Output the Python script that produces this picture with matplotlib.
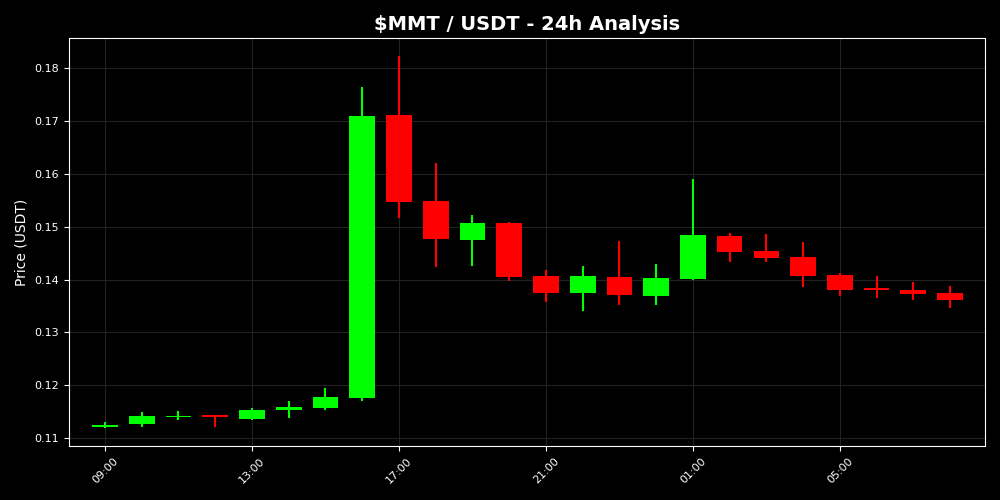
import matplotlib
matplotlib.use('Agg')
import matplotlib.pyplot as plt

# Hourly candles, 09:00 -> 08:00 next day
hours = ['09:00', '10:00', '11:00', '12:00', '13:00', '14:00', '15:00', '16:00',
         '17:00', '18:00', '19:00', '20:00', '21:00', '22:00', '23:00', '00:00',
         '01:00', '02:00', '03:00', '04:00', '05:00', '06:00', '07:00', '08:00']
opens = [0.1121, 0.1127, 0.1140, 0.1144, 0.1137, 0.1154, 0.1157, 0.1176,
         0.1711, 0.1548, 0.1475, 0.1507, 0.1407, 0.1374, 0.1405, 0.1368,
         0.1401, 0.1482, 0.1454, 0.1442, 0.1408, 0.1384, 0.1380, 0.1374]
highs = [0.1130, 0.1149, 0.1152, 0.1144, 0.1157, 0.1170, 0.1195, 0.1764,
         0.1823, 0.1620, 0.1522, 0.1509, 0.1418, 0.1425, 0.1473, 0.1429,
         0.1591, 0.1488, 0.1486, 0.1471, 0.1412, 0.1406, 0.1395, 0.1388]
lows = [0.1120, 0.1121, 0.1135, 0.1121, 0.1135, 0.1138, 0.1154, 0.1171,
        0.1517, 0.1424, 0.1425, 0.1398, 0.1357, 0.1341, 0.1352, 0.1352,
        0.1400, 0.1434, 0.1434, 0.1386, 0.1369, 0.1365, 0.1362, 0.1347]
closes = [0.1125, 0.1142, 0.1142, 0.1139, 0.1153, 0.1159, 0.1178, 0.1709,
          0.1547, 0.1477, 0.1507, 0.1405, 0.1374, 0.1407, 0.1371, 0.1402,
          0.1484, 0.1453, 0.1441, 0.1407, 0.1381, 0.1380, 0.1373, 0.1362]

plt.style.use('dark_background')
fig, ax = plt.subplots(figsize=(10, 5), dpi=100)
fig.subplots_adjust(left=0.069, right=0.985, bottom=0.108, top=0.924)
fig.patch.set_facecolor('black')
ax.set_facecolor('black')

width = 0.7
for i in range(len(hours)):
    o, h, l, c = opens[i], highs[i], lows[i], closes[i]
    color = '#00ff00' if c >= o else '#ff0000'
    ax.vlines(i, l, h, color=color, linewidth=1.5, zorder=2)
    bottom = min(o, c)
    height = max(abs(c - o), 0.00005)
    ax.bar(i, height, width=width, bottom=bottom, color=color, zorder=3)

ax.set_xlim(-0.98, 23.95)
ax.set_ylim(0.1085, 0.1857)

tick_idx = list(range(0, len(hours), 4))
ax.set_xticks(tick_idx)
ax.set_xticklabels([hours[i] for i in tick_idx], rotation=45, fontsize=8)
ax.tick_params(axis='y', labelsize=8)

ax.grid(True, color='#222222', linewidth=0.8)
ax.set_axisbelow(True)
for s in ax.spines.values():
    s.set_color('white')

ax.set_title('$MMT / USDT - 24h Analysis', fontsize=14, fontweight='bold', color='white')
ax.set_ylabel('Price (USDT)', fontsize=10, color='white')

plt.savefig('out.png', dpi=100, facecolor='black')
